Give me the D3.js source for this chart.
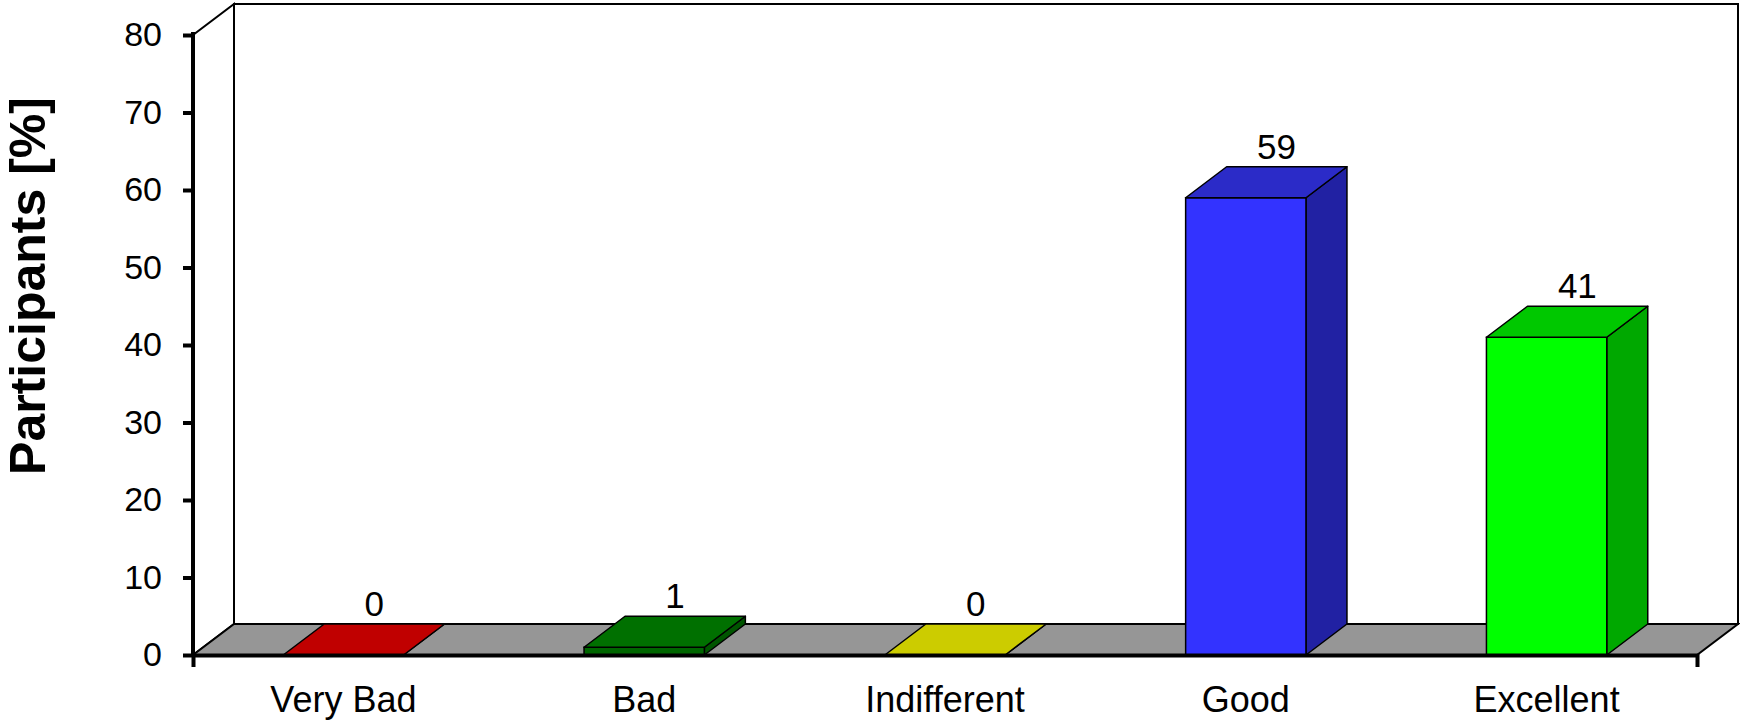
<!DOCTYPE html>
<html>
<head>
<meta charset="utf-8">
<script src="https://cdn.jsdelivr.net/npm/d3@7"></script>
<style>
  html, body { margin: 0; padding: 0; background: #fff; }
  svg { display: block; font-family: "Liberation Sans", Arial, sans-serif; }
</style>
</head>
<body>
<svg id="chart" width="1740" height="720"></svg>
<script>
const categories = ["Very Bad", "Bad", "Indifferent", "Good", "Excellent"];
const values = [0, 1, 0, 59, 41];
const frontColors = ["#C00000", "#006600", "#CCCC00", "#3333FF", "#00FF00"];
const topColors   = ["#C00000", "#007000", "#CCCC00", "#2B2BC8", "#00C800"];
const sideColors  = ["#A00000", "#005500", "#AAAA00", "#2121A3", "#00A800"];
const yTicks = [0, 10, 20, 30, 40, 50, 60, 70, 80];
const yTitle = "Participants [%]";

const svg = d3.select("#chart");
const x0 = 193, x1 = 1697, yBase = 655, yTop = 35;
const DX = 41, DY = -31;

const x = d3.scaleBand().domain(categories).range([x0, x1]).padding(0);
const y = d3.scaleLinear().domain([0, 80]).range([yBase, yTop]);
const barW = x.bandwidth() * 0.4;

// Walls
const wallG = svg.append("g");
wallG.append("path")
  .attr("d", `M${x0},${y(0)}L${x0+DX},${y(0)+DY}L${x0+DX},${y(80)+DY}L${x0},${y(80)}Z`)
  .attr("fill", "#fff").attr("stroke", "#000").attr("stroke-width", 2);
wallG.append("path")
  .attr("d", `M${x0+DX},${y(0)+DY}L${x1+DX},${y(0)+DY}L${x1+DX},${y(80)+DY}L${x0+DX},${y(80)+DY}Z`)
  .attr("fill", "#fff").attr("stroke", "#000").attr("stroke-width", 2);
wallG.append("path")
  .attr("d", `M${x0},${y(0)}L${x1},${y(0)}L${x1+DX},${y(0)+DY}L${x0+DX},${y(0)+DY}Z`)
  .attr("fill", "#969696").attr("stroke", "#000").attr("stroke-width", 2);

// Bars
const bars = svg.append("g").selectAll("g").data(categories).join("g");
bars.each(function(c, i) {
  const g = d3.select(this);
  const bx = x(c) + (x.bandwidth() - barW) / 2;
  const yt = y(values[i]);
  g.append("path")
    .attr("d", `M${bx+barW},${yBase}L${bx+barW+DX},${yBase+DY}L${bx+barW+DX},${yt+DY}L${bx+barW},${yt}Z`)
    .attr("fill", sideColors[i]).attr("stroke", "#000").attr("stroke-width", 1.5).attr("stroke-linejoin", "round");
  g.append("rect")
    .attr("x", bx).attr("y", yt).attr("width", barW).attr("height", yBase - yt)
    .attr("fill", frontColors[i]).attr("stroke", "#000").attr("stroke-width", 1.5);
  g.append("path")
    .attr("d", `M${bx},${yt}L${bx+barW},${yt}L${bx+barW+DX},${yt+DY}L${bx+DX},${yt+DY}Z`)
    .attr("fill", topColors[i]).attr("stroke", "#000").attr("stroke-width", 1.5).attr("stroke-linejoin", "round");
  g.append("text")
    .attr("x", x(c) + x.bandwidth() / 2 + DX * 0.75)
    .attr("y", yt + DY - 8)
    .attr("text-anchor", "middle")
    .attr("font-size", 35)
    .attr("fill", "#000")
    .text(values[i]);
});

// Y axis
const yAxis = d3.axisLeft(y).tickValues(yTicks).tickSizeInner(10).tickSizeOuter(0).tickPadding(21);
const yg = svg.append("g").attr("transform", `translate(${x0},0)`).call(yAxis);
yg.select(".domain").attr("stroke-width", 4).attr("d", `M0,${yBase}V${yTop-3}`);
yg.selectAll(".tick line").attr("stroke-width", 4);
yg.selectAll(".tick text").attr("font-size", 34).attr("font-family", "Liberation Sans, Arial, sans-serif").attr("fill", "#000");

// X axis
const xAxis = d3.axisBottom(x).tickSizeInner(0).tickSizeOuter(12).tickPadding(31);
const xg = svg.append("g").attr("transform", `translate(0,${yBase})`).call(xAxis);
xg.select(".domain").attr("stroke-width", 4);
xg.selectAll(".tick text").attr("font-size", 36).attr("font-family", "Liberation Sans, Arial, sans-serif").attr("fill", "#000");

// Y title
svg.append("text")
  .attr("transform", `translate(45,286) rotate(-90)`)
  .attr("text-anchor", "middle")
  .attr("font-size", 50)
  .attr("font-weight", "bold")
  .text(yTitle);
</script>
</body>
</html>
